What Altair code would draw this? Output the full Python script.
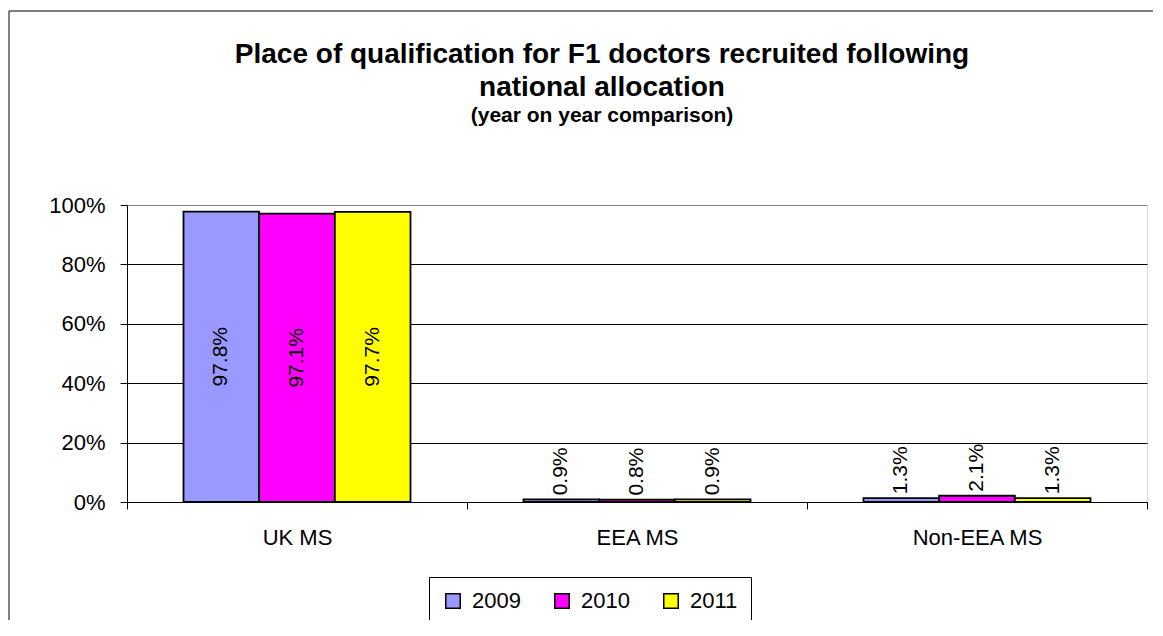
import altair as alt
import pandas as pd

categories = ["UK MS", "EEA MS", "Non-EEA MS"]
years = ["2009", "2010", "2011"]
values_2009 = [97.8, 0.9, 1.3]
values_2010 = [97.1, 0.8, 2.1]
values_2011 = [97.7, 0.9, 1.3]
colors = ["#9999FF", "#FF00FF", "#FFFF00"]
y_ticks = [0, 20, 40, 60, 80, 100]
title_lines = ["Place of qualification for F1 doctors recruited following", "national allocation"]
subtitle = "(year on year comparison)"

rows = []
for yr, vals in zip(years, [values_2009, values_2010, values_2011]):
    for c, v in zip(categories, vals):
        rows.append({"category": c, "year": yr, "value": v})
df = pd.DataFrame(rows)

FONT = "Liberation Sans"

base = alt.Chart(df).transform_calculate(label="format(datum.value, '.1f') + '%'")

x_enc = alt.X(
    "category:N", sort=categories,
    scale=alt.Scale(paddingInner=0, paddingOuter=0),
    axis=alt.Axis(title=None, labelFontSize=22, labelFont=FONT, labelColor="black",
                  labelPadding=18, tickBand="extent", tickSize=7, tickColor="black",
                  domainColor="black", labelAngle=0, grid=False),
)
xo_enc = alt.XOffset("year:N", sort=years, scale=alt.Scale(paddingInner=0, paddingOuter=0.7467))
y_scale = alt.Scale(domain=[0, 100], nice=False)
y_axis = alt.Axis(title=None, values=y_ticks, labelExpr="datum.value + '%'", labelFontSize=22,
                  labelFont=FONT, labelColor="black", labelPadding=15, tickSize=7,
                  tickColor="black", domainColor="black", grid=True,
                  gridColor={"condition": {"test": "datum.value >= 100", "value": "#808080"}, "value": "black"},
                  gridWidth=1)

bars = base.mark_bar(stroke="black", strokeWidth=1.8).encode(
    x=x_enc,
    xOffset=xo_enc,
    y=alt.Y("value:Q", scale=y_scale, axis=y_axis),
    color=alt.Color("year:N", sort=years, scale=alt.Scale(domain=years, range=colors),
                    legend=alt.Legend(title=None, orient="none", legendX=302, legendY=372,
                                      direction="horizontal", symbolType="square",
                                      symbolSize=210, symbolStrokeColor="black",
                                      symbolStrokeWidth=1.5, labelFontSize=22, labelFont=FONT,
                                      labelColor="black", labelOffset=8, columnPadding=30,
                                      padding=13, strokeColor="black", fillColor="white")),
)

big = base.transform_filter("datum.value > 50").transform_calculate(
    mid="datum.value / 2"
).mark_text(angle=270, align="center", baseline="middle", fontSize=21, font=FONT, color="black").encode(
    x=x_enc, xOffset=xo_enc, y=alt.Y("mid:Q", scale=y_scale, axis=y_axis), text="label:N"
)

small = base.transform_filter("datum.value <= 50").mark_text(
    angle=270, align="left", baseline="middle", dx=4, fontSize=21, font=FONT, color="black"
).encode(
    x=x_enc, xOffset=xo_enc, y=alt.Y("value:Q", scale=y_scale, axis=y_axis), text="label:N"
)

frame = alt.Chart(pd.DataFrame({"f": [0]})).mark_rect(
    fill="transparent", stroke="black", strokeWidth=1
).encode(
    x=alt.value(-118), x2=alt.value(1100), y=alt.value(-194), y2=alt.value(480)
)

chart = alt.layer(frame, bars, big, small).properties(
    width=1020,
    height=297,
    padding={"left": 119, "top": 197, "right": 6, "bottom": 118},
    autosize=alt.AutoSizeParams(type="none"),
    title=alt.TitleParams(
        text=title_lines, subtitle=subtitle, font=FONT, fontSize=28, fontWeight="bold",
        color="black", lineHeight=33, subtitleFont=FONT, subtitleFontSize=21,
        subtitleFontWeight="bold", subtitleColor="black", subtitlePadding=3,
        anchor="middle", dx=-35, offset=0, dy=115,
    ),
).configure_view(
    fill="#C0C0C0", stroke="#808080", strokeWidth=2
).configure(background="white")

chart.save("out.html", embed_options={"renderer": "svg", "actions": False})
